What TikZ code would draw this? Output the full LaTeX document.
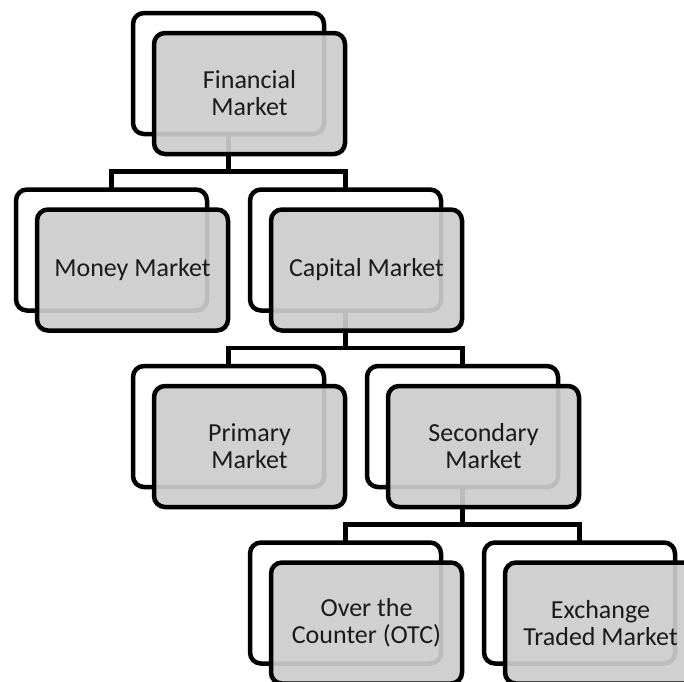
\documentclass[tikz,border=0pt]{standalone}
\usepackage{fontspec}
\setmainfont{Carlito}
\usetikzlibrary{positioning}

\definecolor{boxgray}{RGB}{204,204,204}
\definecolor{inkgray}{RGB}{26,26,26}

\begin{document}
\begin{tikzpicture}[x=1pt, y=1pt,
  node distance=55.5pt and 44pt,
  back/.style={draw, line width=4.5pt, rounded corners=11pt, outer sep=0pt,
               minimum width=191pt, minimum height=121pt, inner sep=0pt},
  front/.style={back, fill=boxgray, fill opacity=0.92, text opacity=1,
                text=inkgray, align=center, font=\fontsize{26}{27}\selectfont},
  conn/.style={line width=4.3pt}]
\clip (0,0) rectangle (684,-681);
% shadow outlines behind each box
\node[back] (fin0) at (228.5,-73.5) {};
\node[back, below=of fin0, xshift=-117pt] (mon0) {};
\node[back, below=of fin0, xshift=117pt] (cap0) {};
\node[back, below=of cap0, xshift=-117pt] (pri0) {};
\node[back, below=of cap0, xshift=117pt] (sec0) {};
\node[back, below=of sec0, xshift=-117pt] (otc0) {};
\node[back, below=of sec0, xshift=117pt] (exc0) {};
% tree connectors
\coordinate (finbus) at ([yshift=18pt]fin0.south |- mon0.north);
\coordinate (capbus) at ([yshift=18pt]cap0.south |- pri0.north);
\coordinate (secbus) at ([yshift=18pt]sec0.south |- otc0.north);
\draw[conn] (fin0.south) -- (finbus);
\draw[conn] (mon0.north) |- (finbus) -| (cap0.north);
\draw[conn] (cap0.south) -- (capbus);
\draw[conn] (pri0.north) |- (capbus) -| (sec0.north);
\draw[conn] (sec0.south) -- (secbus);
\draw[conn] (otc0.north) |- (secbus) -| (exc0.north);
% filled boxes on top
\node[front] (fin) at ([xshift=21pt, yshift=-20pt]fin0.center) {Financial\\Market};
\node[front] (mon) at ([xshift=21pt, yshift=-20pt]mon0.center) {Money Market};
\node[front] (cap) at ([xshift=21pt, yshift=-20pt]cap0.center) {Capital Market};
\node[front] (pri) at ([xshift=21pt, yshift=-20pt]pri0.center) {Primary\\Market};
\node[front] (sec) at ([xshift=21pt, yshift=-20pt]sec0.center) {Secondary\\Market};
\node[front] (otc) at ([xshift=21pt, yshift=-20pt]otc0.center) {Over the\\Counter (OTC)};
\node[front] (exc) at ([xshift=21pt, yshift=-20pt]exc0.center) {Exchange\\Traded Market};
\end{tikzpicture}
\end{document}
